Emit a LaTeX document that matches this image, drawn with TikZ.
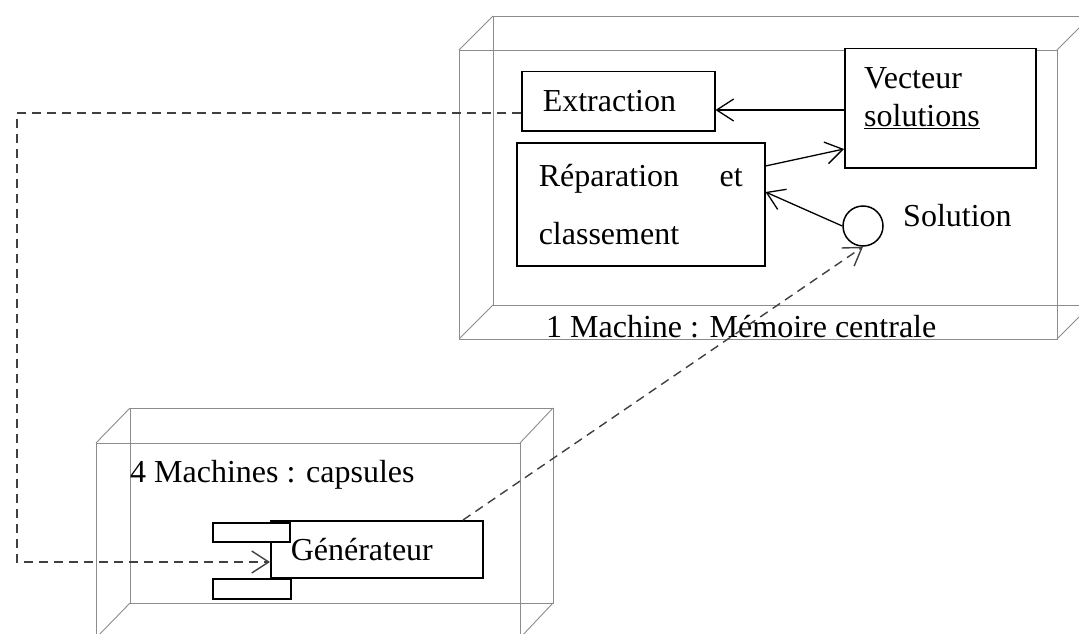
\documentclass[tikz,border=0pt]{standalone}
\usepackage{fontspec}
\setmainfont{Liberation Serif}
\usetikzlibrary{arrows.meta,calc}
\tikzset{
  wire/.style={draw=black!45, line width=0.9pt},
  part/.style={draw=black, line width=1.5pt, fill=white, inner sep=0pt},
  lbl/.style={inner sep=0pt, font=\fontsize{32}{38}\selectfont},
  barb/.style={-{Straight Barb[length=17pt,width=22pt]}},
  link/.style={draw=black, line width=1.3pt, barb},
  dlink/.style={draw=black!75, line width=1.4pt, dash pattern=on 9pt off 6pt, barb},
}
\begin{document}
\begin{tikzpicture}[x=1pt,y=-1pt]
\useasboundingbox (0,0) rectangle (1079,634);
\clip (0,0) rectangle (1079,634);

% upper node: 1 Machine, drawn as a wireframe box
\draw[wire] (459,50) rectangle (1057,339);
\draw[wire] (493,16) rectangle (1091,305);
\draw[wire] (459,50) -- (493,16) (1057,50) -- (1091,16)
            (459,339) -- (493,305) (1057,339) -- (1091,305);

% lower node: 4 Machines
\draw[wire] (96,443) rectangle (520,638);
\draw[wire] (130,408) rectangle (553,603);
\draw[wire] (96,443) -- (130,408) (520,443) -- (553,408)
            (96,638) -- (130,603) (520,638) -- (553,603);

% components of the central memory
\node[part, anchor=north west, minimum width=193pt, minimum height=59pt,
      text width=151pt, inner xsep=21pt, align=left,
      font=\fontsize{32}{38}\selectfont] (extr) at (521,71) {Extraction};

\node[part, anchor=north west, minimum width=191pt, minimum height=119pt] (vect) at (844,48) {};
\node[lbl, anchor=west, align=left] (vecttxt) at (864,98) {Vecteur\\\underline{solutions}};

\node[part, anchor=north west, minimum width=248pt, minimum height=123pt,
      text width=204pt, inner xsep=22pt, align=left,
      font=\fontsize{32}{58}\selectfont] (rep) at (516,142) {Réparation\hfill et\\classement};

\node[draw=black, line width=1.5pt, circle, minimum size=40pt, inner sep=0pt] (sol) at (863,226) {};
\node[lbl, anchor=west] (soltxt) at (903,216) {Solution};

\node[lbl, anchor=west] (m1) at (546,327) {1 Machine : Mémoire centrale};
\node[lbl, anchor=west] (m4) at (130,475) {4 Machines : capsules};

% generator component with its two tabs
\node[part, anchor=north west, minimum width=212pt, minimum height=57pt,
      text width=172pt, inner xsep=20pt, align=left,
      font=\fontsize{32}{38}\selectfont] (gen) at (270,520) {Générateur};
\node[part, anchor=north west, minimum width=77pt, minimum height=19pt] (tabA) at (212,522) {};
\node[part, anchor=north west, minimum width=78pt, minimum height=20pt] (tabB) at (212,578) {};

% solid flows
\coordinate (hx) at (0,110);
\draw[link] (vect.west |- hx) -- (extr.east |- hx);
\coordinate (hr1) at (0,166);
\coordinate (hr2) at (0,149);
\draw[link] (rep.east |- hr1) -- (vect.west |- hr2);
\coordinate (hr3) at (0,192);
\draw[link] (sol.west) -- (rep.east |- hr3);

% dashed dependencies between machines
\coordinate (dTop) at (17,113);
\coordinate (dBot) at (17,562);
\draw[dlink] (extr.west |- dTop) -- (dTop) -- (dBot) -- (gen.west |- dBot);
\coordinate (gs) at (463,0);
\draw[dlink] (gen.north -| gs) -- (sol.south);
\end{tikzpicture}
\end{document}
